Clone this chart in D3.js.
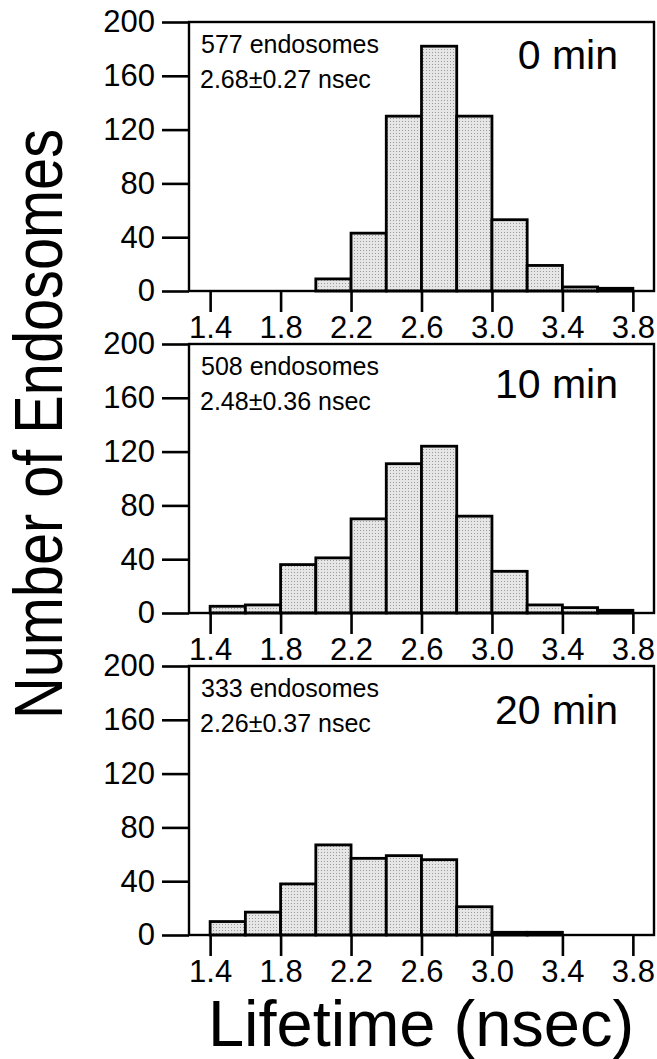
<!DOCTYPE html>
<html>
<head>
<meta charset="utf-8">
<script src="https://cdnjs.cloudflare.com/ajax/libs/d3/7.8.5/d3.min.js"></script>
<style>
	body { margin: 0; background: #fff; }
	text { font-family: "Liberation Sans", Arial, Helvetica, sans-serif; fill: #000; }
</style>
</head>
<body>
<div id="chart"></div>
<script>
// bin edges (nsec), each bin 0.2 wide
let binStarts = [1.4, 1.6, 1.8, 2.0, 2.2, 2.4, 2.6, 2.8, 3.0, 3.2, 3.4, 3.6];
let binWidth = 0.2;

// counts
let counts0 = [0, 0, 0, 9, 43, 130, 182, 130, 53, 19, 3, 2];
let counts10 = [5, 6, 36, 41, 70, 111, 124, 72, 31, 6, 4, 2];
let counts20 = [10, 17, 38, 67, 57, 59, 56, 21, 2, 2, 0, 0];

let panelTitles = ["0 min", "10 min", "20 min"];
let panelCounts = ["577 endosomes", "508 endosomes", "333 endosomes"];
let panelMeans = ["2.68\u00b10.27 nsec", "2.48\u00b10.36 nsec", "2.26\u00b10.37 nsec"];

let xTicks = [1.4, 1.8, 2.2, 2.6, 3.0, 3.4, 3.8];
let yTicks = [0, 40, 80, 120, 160, 200];

var w = 657,
	h = 1059,
	left = 189,
	right = 654,
	panelH = 269,
	tops = [22, 344, 666],
	titleY = [47, 54, 58];

let series = [counts0, counts10, counts20];

let svg = d3.select("#chart")
			.append("svg")
			.attr("width", w)
			.attr("height", h);

// light stipple like the printed bars
let pat = svg.append("defs")
			 .append("pattern")
			 .attr("id", "stipple")
			 .attr("width", 3)
			 .attr("height", 3)
			 .attr("patternUnits", "userSpaceOnUse");
pat.append("rect").attr("width", 3).attr("height", 3).attr("fill", "#e6e6e6");
pat.append("rect").attr("width", 1).attr("height", 1).attr("fill", "#9a9a9a");

let xScale = d3.scaleLinear()
			   .domain([1.28, 3.92])
			   .range([left, right]);

let yScale = d3.scaleLinear()
			   .domain([0, 200])
			   .range([panelH, 0]);

series.forEach(function(counts, p){
	let g = svg.append("g")
			   .attr("transform", "translate(0," + tops[p] + ")");

	let bins = binStarts.map((b, i) => ({x0: b, x1: b + binWidth, n: counts[i]}));

	g.append("g")
	 .selectAll("rect")
	 .data(bins.filter((d) => d.n > 0))
	 .enter()
	 .append("rect")
	 .attr("x", (d) => xScale(d.x0))
	 .attr("y", (d) => yScale(d.n))
	 .attr("width", (d) => xScale(d.x1) - xScale(d.x0))
	 .attr("height", (d) => yScale(0) - yScale(d.n))
	 .attr("fill", "url(#stipple)")
	 .attr("stroke", "#000")
	 .attr("stroke-width", 2.8);

	// frame
	g.append("rect")
	 .attr("x", left)
	 .attr("y", 0)
	 .attr("width", right - left)
	 .attr("height", panelH)
	 .attr("fill", "none")
	 .attr("stroke", "#000")
	 .attr("stroke-width", 2.4);

	let yAxis = d3.axisLeft(yScale)
				  .tickValues(yTicks)
				  .tickSize(27)
				  .tickPadding(7)
				  .tickFormat(d3.format("d"));

	let xAxis = d3.axisBottom(xScale)
				  .tickValues(xTicks)
				  .tickSize(21)
				  .tickPadding(4)
				  .tickFormat(d3.format(".1f"));

	let ya = g.append("g")
			  .attr("transform", "translate(" + left + ",0)")
			  .call(yAxis);

	let xa = g.append("g")
			  .attr("transform", "translate(0," + panelH + ")")
			  .call(xAxis);

	[ya, xa].forEach(function(a){
		a.select(".domain").remove();
		a.selectAll("line").attr("stroke", "#000").attr("stroke-width", 2.6);
		a.selectAll("text")
		 .style("font-family", "'Liberation Sans', Arial, sans-serif")
		 .style("font-size", "31px")
		 .attr("fill", "#000");
	});

	g.append("text")
	 .attr("x", 201)
	 .attr("y", 31)
	 .style("font-size", "25px")
	 .text(panelCounts[p]);

	g.append("text")
	 .attr("x", 200)
	 .attr("y", 66)
	 .style("font-size", "25px")
	 .text(panelMeans[p]);

	g.append("text")
	 .attr("x", 618)
	 .attr("y", titleY[p])
	 .attr("text-anchor", "end")
	 .style("font-size", "41px")
	 .text(panelTitles[p]);
});

svg.append("text")
   .attr("transform", "translate(62,719) rotate(-90)")
   .attr("textLength", 590)
   .attr("lengthAdjust", "spacingAndGlyphs")
   .style("font-size", "69px")
   .text("Number of Endosomes");

svg.append("text")
   .attr("x", 421)
   .attr("y", 1046)
   .attr("text-anchor", "middle")
   .style("font-size", "65px")
   .text("Lifetime (nsec)");
</script>
</body>
</html>
